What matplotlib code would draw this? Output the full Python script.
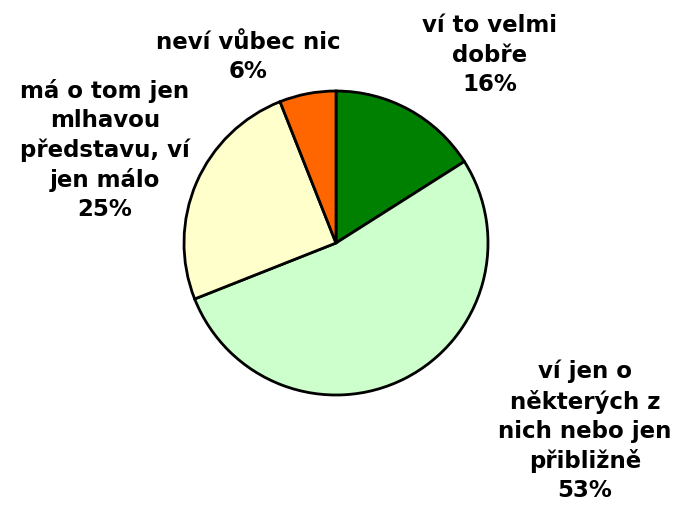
import matplotlib.pyplot as plt

# Data
labels = ["ví to velmi\ndobře", "ví jen o\nněkterých z\nnich nebo jen\npřibližně",
          "má o tom jen\nmlhavou\npředstavu, ví\njen málo", "neví vůbec nic"]
shares = [16, 53, 25, 6]
colors = ["#008000", "#CCFFCC", "#FFFFCC", "#FF6600"]

# label centres in pixel coordinates (from top-left)
label_pos = [(490, 55), (585, 431), (105, 150), (248, 57)]

W, H = 680, 507
fig = plt.figure(figsize=(6.8, 5.07), dpi=100)
ax = fig.add_axes([0, 0, 1, 1])

ax.pie(shares, colors=colors, startangle=90, counterclock=False,
       center=(336, H - 243), radius=152,
       wedgeprops=dict(edgecolor="black", linewidth=2))

ax.set_xlim(0, W)
ax.set_ylim(0, H)
ax.set_aspect("equal")
ax.axis("off")

for lab, val, (x, y) in zip(labels, shares, label_pos):
    ax.text(x, H - y, f"{lab}\n{val}%", ha="center", va="center",
            fontsize=16.5, fontweight="bold", family="DejaVu Sans",
            linespacing=1.34)

fig.savefig("out.png", dpi=100, facecolor="white")
